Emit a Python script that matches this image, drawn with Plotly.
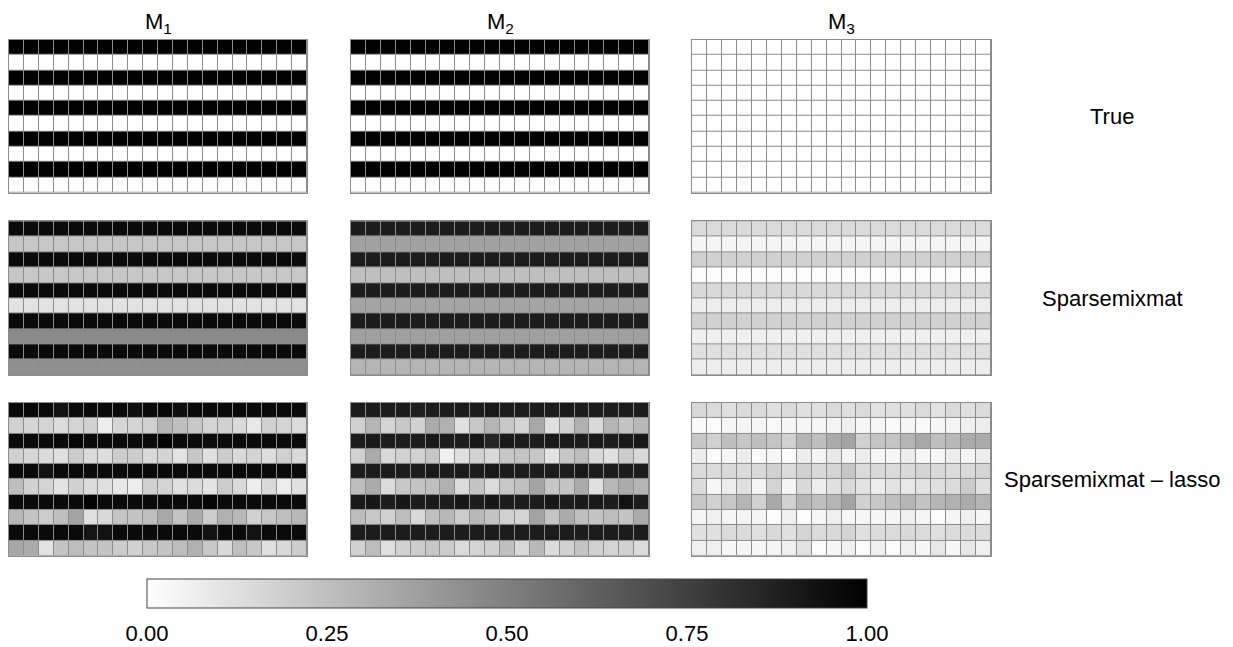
import plotly.graph_objects as go

# page body has an 8px default margin; the figure is sized to fit the 1233x647 window
OFF = 8
W, H = 1233 - OFF, 647 - OFF
NCOL = 20

# ---------------- data ----------------
col_titles = ["M<sub>1</sub>", "M<sub>2</sub>", "M<sub>3</sub>"]
row_labels = ["True", "Sparsemixmat", "Sparsemixmat \u2013 lasso"]

# True: values per row (uniform across 20 columns)
true_M1_rows = [1, 0, 1, 0, 1, 0, 1, 0, 1, 0]
true_M2_rows = [1, 0, 1, 0, 1, 0, 1, 0, 1, 0]
true_M3_rows = [0, 0, 0, 0, 0, 0, 0, 0, 0, 0]

# Sparsemixmat: values per row (uniform across columns)
sparse_M1_rows = [0.96, 0.22, 0.96, 0.22, 0.96, 0.11, 0.96, 0.46, 0.96, 0.44]
sparse_M2_rows = [0.89, 0.37, 0.89, 0.25, 0.89, 0.36, 0.89, 0.37, 0.89, 0.29]
sparse_M3_rows = [0.14, 0.04, 0.18, 0.01, 0.15, 0.07, 0.18, 0.06, 0.12, 0.07]

# Sparsemixmat-lasso: full 10 x 20 matrices
lasso_M1 = [
    [0.96, 0.97, 0.96, 0.93, 0.96, 0.97, 0.96, 0.96, 0.94, 0.96, 0.97, 0.94, 0.96, 0.96, 0.96, 0.96, 0.96, 0.96, 0.96, 0.96],
    [0.18, 0.16, 0.17, 0.14, 0.17, 0.18, 0.07, 0.16, 0.17, 0.18, 0.29, 0.25, 0.22, 0.17, 0.18, 0.15, 0.09, 0.18, 0.17, 0.14],
    [0.96, 0.96, 0.96, 0.96, 0.98, 0.96, 0.96, 0.96, 0.96, 0.96, 0.99, 0.96, 0.96, 0.95, 0.96, 0.96, 0.96, 0.96, 0.96, 0.96],
    [0.18, 0.16, 0.14, 0.12, 0.20, 0.14, 0.13, 0.20, 0.20, 0.15, 0.17, 0.11, 0.22, 0.12, 0.20, 0.15, 0.17, 0.13, 0.18, 0.15],
    [0.96, 0.96, 0.93, 0.96, 0.96, 0.96, 0.96, 0.96, 0.96, 0.96, 0.96, 0.96, 0.96, 0.96, 0.96, 0.97, 0.96, 0.96, 0.96, 0.96],
    [0.26, 0.18, 0.17, 0.11, 0.18, 0.14, 0.12, 0.09, 0.07, 0.18, 0.17, 0.12, 0.14, 0.11, 0.20, 0.15, 0.07, 0.15, 0.07, 0.12],
    [0.96, 0.96, 0.96, 0.96, 0.96, 0.99, 0.96, 0.96, 0.96, 0.96, 0.96, 0.96, 0.96, 0.98, 0.96, 0.96, 0.96, 0.96, 0.96, 0.96],
    [0.28, 0.23, 0.20, 0.25, 0.36, 0.12, 0.15, 0.23, 0.23, 0.25, 0.34, 0.23, 0.33, 0.20, 0.31, 0.28, 0.18, 0.22, 0.25, 0.28],
    [0.96, 0.96, 0.96, 0.96, 0.96, 0.92, 0.93, 0.96, 0.96, 0.96, 0.96, 0.96, 0.96, 0.93, 0.96, 0.96, 0.93, 0.96, 0.96, 0.96],
    [0.34, 0.33, 0.11, 0.23, 0.26, 0.23, 0.23, 0.20, 0.18, 0.22, 0.23, 0.26, 0.31, 0.22, 0.15, 0.25, 0.22, 0.12, 0.15, 0.20],
]

lasso_M2 = [
    [0.89, 0.89, 0.89, 0.89, 0.88, 0.89, 0.89, 0.89, 0.89, 0.90, 0.89, 0.89, 0.89, 0.89, 0.90, 0.89, 0.89, 0.89, 0.89, 0.89],
    [0.18, 0.29, 0.17, 0.22, 0.18, 0.33, 0.31, 0.12, 0.22, 0.29, 0.22, 0.17, 0.34, 0.12, 0.18, 0.31, 0.15, 0.29, 0.23, 0.28],
    [0.89, 0.90, 0.89, 0.89, 0.89, 0.90, 0.89, 0.89, 0.91, 0.86, 0.90, 0.89, 0.89, 0.90, 0.90, 0.89, 0.90, 0.89, 0.90, 0.91],
    [0.18, 0.33, 0.15, 0.18, 0.18, 0.22, 0.06, 0.12, 0.18, 0.15, 0.22, 0.23, 0.22, 0.11, 0.22, 0.26, 0.15, 0.12, 0.20, 0.15],
    [0.89, 0.89, 0.89, 0.89, 0.89, 0.90, 0.89, 0.89, 0.89, 0.90, 0.89, 0.89, 0.89, 0.89, 0.89, 0.90, 0.89, 0.89, 0.89, 0.89],
    [0.26, 0.33, 0.14, 0.22, 0.23, 0.25, 0.31, 0.14, 0.23, 0.14, 0.22, 0.25, 0.36, 0.22, 0.23, 0.33, 0.12, 0.28, 0.33, 0.29],
    [0.90, 0.91, 0.89, 0.91, 0.89, 0.90, 0.89, 0.91, 0.89, 0.91, 0.89, 0.89, 0.89, 0.91, 0.89, 0.90, 0.90, 0.89, 0.93, 0.89],
    [0.26, 0.22, 0.18, 0.26, 0.15, 0.25, 0.28, 0.20, 0.28, 0.23, 0.18, 0.17, 0.36, 0.23, 0.33, 0.25, 0.23, 0.26, 0.23, 0.33],
    [0.89, 0.89, 0.89, 0.89, 0.89, 0.89, 0.89, 0.89, 0.89, 0.89, 0.89, 0.89, 0.89, 0.89, 0.89, 0.89, 0.89, 0.89, 0.89, 0.89],
    [0.18, 0.26, 0.12, 0.18, 0.20, 0.22, 0.20, 0.14, 0.17, 0.18, 0.25, 0.15, 0.28, 0.14, 0.18, 0.23, 0.18, 0.17, 0.18, 0.14],
]

lasso_M3 = [
    [0.15, 0.14, 0.12, 0.14, 0.14, 0.12, 0.14, 0.12, 0.12, 0.14, 0.12, 0.14, 0.11, 0.12, 0.12, 0.14, 0.11, 0.14, 0.12, 0.14],
    [0.02, 0.01, 0.03, 0.04, 0.03, 0.02, 0.03, 0.03, 0.03, 0.04, 0.06, 0.03, 0.03, 0.02, 0.03, 0.02, 0.03, 0.04, 0.06, 0.07],
    [0.22, 0.18, 0.25, 0.22, 0.25, 0.23, 0.18, 0.29, 0.25, 0.33, 0.36, 0.18, 0.23, 0.23, 0.29, 0.34, 0.25, 0.28, 0.33, 0.33],
    [0.07, 0.01, 0.03, 0.07, 0.02, 0.03, 0.00, 0.07, 0.04, 0.09, 0.04, 0.07, 0.03, 0.03, 0.07, 0.03, 0.03, 0.07, 0.04, 0.07],
    [0.14, 0.14, 0.15, 0.14, 0.15, 0.18, 0.14, 0.18, 0.15, 0.17, 0.22, 0.14, 0.15, 0.14, 0.15, 0.17, 0.15, 0.14, 0.15, 0.17],
    [0.14, 0.03, 0.07, 0.12, 0.04, 0.17, 0.04, 0.15, 0.07, 0.12, 0.15, 0.11, 0.07, 0.11, 0.09, 0.11, 0.12, 0.14, 0.20, 0.12],
    [0.22, 0.18, 0.22, 0.29, 0.18, 0.34, 0.18, 0.29, 0.25, 0.29, 0.36, 0.18, 0.22, 0.25, 0.29, 0.23, 0.29, 0.31, 0.33, 0.29],
    [0.04, 0.06, 0.04, 0.04, 0.04, 0.01, 0.06, 0.01, 0.03, 0.06, 0.03, 0.03, 0.03, 0.04, 0.06, 0.04, 0.01, 0.04, 0.06, 0.04],
    [0.12, 0.12, 0.14, 0.14, 0.12, 0.15, 0.12, 0.17, 0.14, 0.15, 0.17, 0.12, 0.14, 0.14, 0.15, 0.14, 0.12, 0.14, 0.14, 0.14],
    [0.06, 0.06, 0.03, 0.04, 0.03, 0.04, 0.06, 0.11, 0.01, 0.03, 0.06, 0.01, 0.06, 0.01, 0.06, 0.03, 0.09, 0.03, 0.09, 0.06],
]

cbar_ticks = [0, 0.25, 0.5, 0.75, 1]
cbar_labels = ["0.00", "0.25", "0.50", "0.75", "1.00"]


def expand(rows):
    return [[v] * NCOL for v in rows]


panels = [
    [expand(true_M1_rows), expand(true_M2_rows), expand(true_M3_rows)],
    [expand(sparse_M1_rows), expand(sparse_M2_rows), expand(sparse_M3_rows)],
    [lasso_M1, lasso_M2, lasso_M3],
]

# ---------------- layout geometry (window pixels) ----------------
col_px = [(9, 307), (351, 649), (692, 991)]
row_px = [(40, 194), (223, 378), (406, 560)]
FONT = "Liberation Sans, Arial, Helvetica, sans-serif"
GRID = "#8c8c8c"


def fx(px):
    return (px - OFF) / W


def fy(py):
    return 1 - (py - OFF) / H


fig = go.Figure()
layout = dict(
    width=W, height=H,
    margin=dict(l=0, r=0, t=0, b=0),
    paper_bgcolor="white",
    plot_bgcolor=GRID,
    showlegend=False,
    font=dict(family=FONT, size=22, color="black"),
)

xs = list(range(1, NCOL + 1))
ys = list(range(1, 11))
k = 0
for r in range(3):
    for c in range(3):
        k += 1
        sfx = "" if k == 1 else str(k)
        fig.add_trace(go.Heatmap(
            z=panels[r][c], x=xs, y=ys,
            coloraxis="coloraxis",
            xgap=1, ygap=1,
            xaxis="x" + sfx, yaxis="y" + sfx,
            hoverinfo="skip",
        ))
        x0, x1 = col_px[c]
        y0, y1 = row_px[r]
        layout["xaxis" + sfx] = dict(
            domain=[fx(x0), fx(x1)], range=[0.5, NCOL + 0.5],
            showticklabels=False, showgrid=False, zeroline=False, ticks="",
            showline=True, mirror=True, linecolor=GRID, linewidth=1,
            anchor="y" + sfx, fixedrange=True,
        )
        layout["yaxis" + sfx] = dict(
            domain=[fy(y1), fy(y0)], range=[10.5, 0.5],
            showticklabels=False, showgrid=False, zeroline=False, ticks="",
            showline=True, mirror=True, linecolor=GRID, linewidth=1,
            anchor="x" + sfx, fixedrange=True,
        )

layout["coloraxis"] = dict(
    colorscale=[[0, "#ffffff"], [1, "#000000"]],
    cmin=0, cmax=1,
    colorbar=dict(
        orientation="h",
        x=fx(147), xanchor="left",
        y=fy(583), yanchor="top",
        len=720, lenmode="pixels",
        thickness=29, thicknessmode="pixels",
        xpad=0, ypad=0,
        outlinecolor="#444444", outlinewidth=1,
        tickvals=cbar_ticks, ticktext=cbar_labels,
        ticks="outside", ticklen=7, tickcolor="rgba(0,0,0,0)",
        tickfont=dict(family=FONT, size=22, color="black"),
    ),
)

annotations = []
for c, t in enumerate(col_titles):
    x0, x1 = col_px[c]
    annotations.append(dict(
        text=t, x=fx((x0 + x1) / 2), y=1.0,
        xref="paper", yref="paper", xanchor="center", yanchor="top",
        borderpad=0,
        showarrow=False, font=dict(family=FONT, size=22, color="black"),
    ))
for r, t in enumerate(row_labels):
    y0, y1 = row_px[r]
    annotations.append(dict(
        text=t, x=fx(1112), y=fy((y0 + y1) / 2),
        xref="paper", yref="paper", xanchor="center", yanchor="middle",
        showarrow=False, font=dict(family=FONT, size=22, color="black"),
    ))
layout["annotations"] = annotations

fig.update_layout(**layout)
fig.write_html("out.html")
